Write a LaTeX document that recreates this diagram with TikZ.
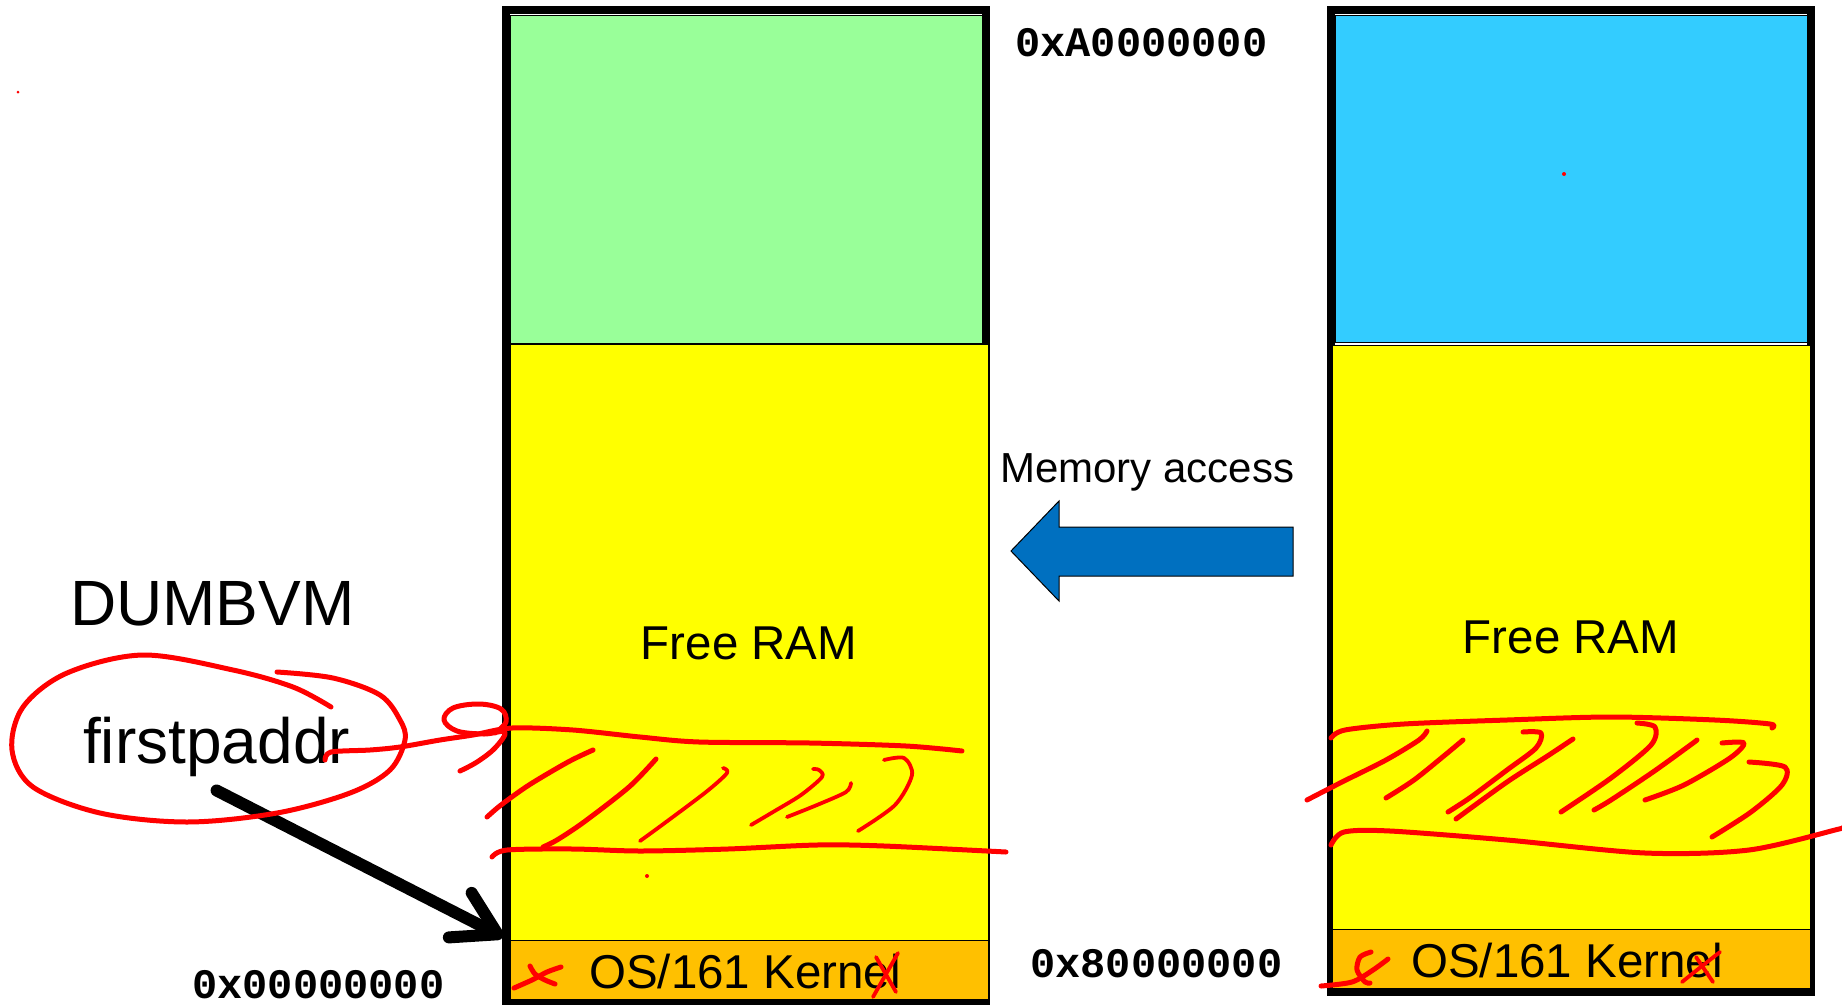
\documentclass[tikz,border=0pt]{standalone}
\usepackage{fontspec}
\setmainfont{Liberation Sans}
\newfontfamily\addrfont{Liberation Mono}
\usetikzlibrary{arrows.meta}

\definecolor{ramgreen}{RGB}{153,255,153}
\definecolor{ramblue}{RGB}{51,204,255}
\definecolor{ramyellow}{RGB}{255,255,0}
\definecolor{kernorange}{RGB}{255,192,0}
\definecolor{accessblue}{RGB}{0,112,192}
\definecolor{ink}{RGB}{255,0,0}

\begin{document}
\begin{tikzpicture}[x=1pt,y=-1pt,
  frame/.style={draw=black,line width=8pt},
  region/.style={draw=black,line width=1pt},
  addr/.style={inner sep=0pt,anchor=base west,font=\addrfont\bfseries\fontsize{42}{46}\selectfont},
  lbl/.style={inner sep=0pt,font=\fontsize{47.5}{52}\selectfont},
  big/.style={inner sep=0pt,anchor=base west,font=\fontsize{64}{70}\selectfont},
  pen/.style={draw=ink,line width=5pt,line cap=round,line join=round},
  thin pen/.style={pen,line width=3.8pt}]

\useasboundingbox (0,0) rectangle (1842,1004);

% ---- physical memory (left column) ----
\draw[frame] (506,10) rectangle (985.5,1003);
\draw[region,fill=ramgreen] (510,15) rectangle (982,343);
\draw[region,fill=ramyellow] (510,344) rectangle (988,940);
\draw[region,fill=kernorange] (510,940) rectangle (988,999);
\coordinate (kernTopL) at (503,937);

% ---- kernel virtual space (right column) ----
\draw[frame] (1331,10) rectangle (1811,992);
\draw[region,fill=ramblue] (1335,15) rectangle (1807,342);
\draw[region,fill=ramyellow] (1332,345) rectangle (1810,929);
\draw[region,fill=kernorange] (1332,929) rectangle (1810,988);

% ---- labels ----
\node[addr] (hiaddr) at (1015,56) {0xA0000000};
\node[addr] (kbase)  at (1030,977) {0x80000000};
\node[addr] (pbase)  at (192,998) {0x00000000};

\node[lbl,anchor=base] (freeL) at (749,659) {Free RAM};
\node[lbl,anchor=base] (freeR) at (1571,653) {Free RAM};
\node[lbl,anchor=base west] (kernL) at (589,988) {OS/161 Kernel};
\node[lbl,anchor=base west] (kernR) at (1411,977) {OS/161 Kernel};

\node[inner sep=0pt,anchor=base west,font=\fontsize{42}{48}\selectfont] (acc) at (1000,482) {Memory access};

\node[big] (dumb) at (70,625) {DUMBVM};
\node[big] (fp) at (83,763) {firstpaddr};

% ---- memory access arrow ----
\draw[draw=black,line width=1pt,fill=accessblue,line join=miter]
  (1011,551) -- (1059,501) -- (1059,527) -- (1293,527) -- (1293,576)
  -- (1059,576) -- (1059,601) -- cycle;

% ---- firstpaddr pointer ----
\draw[line width=12pt,line cap=round,
  -{Straight Barb[length=42pt,width=50pt,round]}]
  ([yshift=-14pt]fp.south) -- (kernTopL);

% ---- red pen annotations ----
% circle round firstpaddr
\draw[pen] plot[smooth,tension=0.55] coordinates {
  (331,707) (293,687) (233,670) (143,655) (67,673) (23,707) (12,750)
  (33,787) (100,813) (187,822) (277,813) (350,793) (390,770) (405,740)
  (400,720) (380,695) (333,678) (277,672)};
% stroke from firstpaddr on to the boundary line
\draw[pen] plot[smooth,tension=0.5] coordinates {
  (325,760) (331,752) (370,750) (400,747) (440,740) (473,735) (512,728)
  (573,730) (640,737) (699,742) (810,743) (906,746) (962,751)};
\draw[pen] plot[smooth,tension=0.6] coordinates {
  (495,733) (506,722) (501,709) (479,704) (453,708) (444,720) (457,731)
  (484,734) (505,732) (495,748) (477,762) (460,771)};
% hatching, physical memory
\draw[pen] plot[smooth] coordinates {(593,750) (568,762) (529,785) (501,805) (487,817)};
\draw[pen] plot[smooth] coordinates {(656,759) (629,787) (584,822) (557,840) (543,847)};
\draw[thin pen] plot[smooth] coordinates {(723,768) (727,773) (706,792) (662,825) (640,841)};
\draw[thin pen] plot[smooth] coordinates {(813,769) (819,770) (822,777) (801,795) (773,812) (751,825)};
\draw[thin pen] plot[smooth] coordinates {(851,783) (846,792) (817,805) (787,817)};
\draw[thin pen] plot[smooth] coordinates {(884,760) (904,758) (912,775) (895,805) (858,831)};
\draw[pen] plot[smooth] coordinates {(492,857) (507,850) (573,849) (640,851) (728,849) (817,845) (884,846) (1006,852)};
\fill[ink] (647,876) circle (2);
\fill[ink] (18,92) circle (1.5);
\fill[ink] (1564,174) circle (2);
% kernel marks, physical memory
\draw[pen] plot[smooth] coordinates {(514,988) (532,980) (547,972) (561,967)};
\draw[pen] plot[smooth] coordinates {(530,966) (535,974) (545,980) (555,984)};
\draw[thin pen] (876,957) -- (896,992);
\draw[thin pen] (898,953) -- (873,997);

% hatching, kernel virtual space
\draw[pen] plot[smooth] coordinates {(1331,738) (1345,730) (1404,724) (1507,720) (1611,717) (1715,720) (1770,724) (1772,728)};
\draw[pen] plot[smooth] coordinates {(1331,845) (1344,832) (1390,831) (1507,840) (1645,853) (1749,850) (1839,829) (1842,828)};
\draw[pen] plot[smooth] coordinates {(1427,731) (1419,740) (1386,760) (1342,782) (1307,800)};
\draw[pen] plot[smooth] coordinates {(1463,740) (1445,755) (1414,780) (1386,798)};
\draw[pen] plot[smooth] coordinates {(1523,732) (1541,733) (1536,748) (1507,770) (1471,797) (1448,812)};
\draw[pen] plot[smooth] coordinates {(1573,739) (1549,755) (1507,782) (1456,819)};
\draw[pen] plot[smooth] coordinates {(1637,723) (1655,727) (1651,745) (1611,778) (1561,812)};
\draw[pen] plot[smooth] coordinates {(1697,740) (1689,746) (1653,772) (1611,800) (1594,810)};
\draw[pen] plot[smooth] coordinates {(1722,743) (1744,743) (1730,758) (1684,785) (1645,800)};
\draw[pen] plot[smooth] coordinates {(1749,762) (1785,767) (1782,785) (1751,812) (1712,837)};
% kernel marks, kernel virtual space
\draw[pen] plot[smooth] coordinates {(1321,986) (1352,982) (1373,970) (1388,959)};
\draw[pen] plot[smooth] coordinates {(1371,952) (1360,957) (1357,970) (1365,982) (1370,983)};
\draw[thin pen] plot[smooth] coordinates {(1682,982) (1697,970) (1720,952)};
\draw[thin pen] (1696,957) -- (1713,982);
\end{tikzpicture}
\end{document}
